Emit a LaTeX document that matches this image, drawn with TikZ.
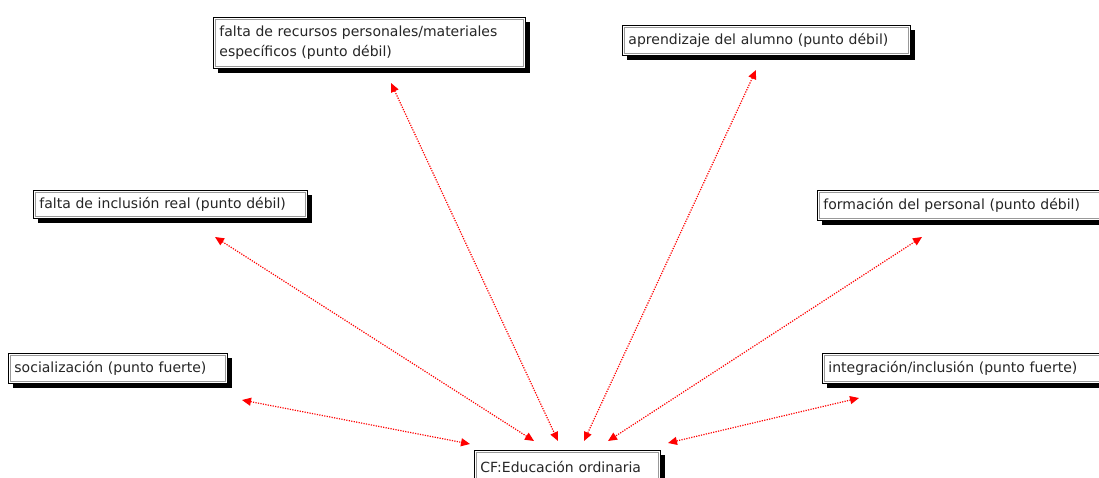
\documentclass[tikz,border=0pt]{standalone}
\usepackage{fontspec}
\setmainfont{DejaVu Sans}
\usetikzlibrary{arrows.meta,shadows}
\begin{document}
\begin{tikzpicture}[x=1pt,y=-1pt,
  topic/.style={draw=black, line width=0.9pt, fill=white, anchor=north west,
    inner xsep=6pt, inner ysep=1pt, align=left, text=black!85,
    font=\fontsize{14}{20}\selectfont,
    drop shadow={shadow xshift=5pt, shadow yshift=-5pt, fill=black, opacity=1},
    path picture={\draw[black!40, line width=0.6pt]
      ([shift={(1.8pt,-1.8pt)}]path picture bounding box.north west) rectangle
      ([shift={(-1.8pt,1.8pt)}]path picture bounding box.south east);}},
  link/.style={red, line width=1.2pt, dash pattern=on 1.2pt off 1.3pt,
    {Triangle[length=9pt,width=8pt]}-{Triangle[length=9pt,width=8pt]}}
]
\useasboundingbox (0,0) rectangle (1099,478);

% topic boxes
\node[topic, text width=300pt, minimum height=51pt] (rec) at (213,17)
  {falta de recursos personales/materiales\\específicos (punto débil)};
\node[topic, text width=276pt, minimum height=30pt] (apr) at (622,25)
  {aprendizaje del alumno (punto débil)};
\node[topic, text width=262pt, minimum height=28pt] (inc) at (33,190)
  {falta de inclusión real (punto débil)};
\node[topic, text width=276pt, minimum height=30pt] (form) at (817,190)
  {formación del personal (punto débil)};
\node[topic, text width=207pt, minimum height=30pt] (soc) at (8,353)
  {socialización (punto fuerte)};
\node[topic, text width=276pt, minimum height=30pt] (integ) at (822,353)
  {integración/inclusión (punto fuerte)};
\node[topic, text width=174pt, minimum height=34pt] (cf) at (474,450)
  {CF:Educación ordinaria};

% connector end points
\coordinate (recE) at (391,83);
\coordinate (aprE) at (756,70);
\coordinate (incE) at (215,237);
\coordinate (formE) at (922,237);
\coordinate (socE) at (242,400);
\coordinate (integE) at (859,398);
\coordinate (cfSoc) at (470,444);
\coordinate (cfInc) at (534,441);
\coordinate (cfRec) at (558,441);
\coordinate (cfApr) at (584,441);
\coordinate (cfForm) at (608,441);
\coordinate (cfInteg) at (668,443);

% connectors
\draw[link] (socE) -- (cfSoc);
\draw[link] (incE) -- (cfInc);
\draw[link] (recE) -- (cfRec);
\draw[link] (aprE) -- (cfApr);
\draw[link] (formE) -- (cfForm);
\draw[link] (integE) -- (cfInteg);
\end{tikzpicture}
\end{document}
